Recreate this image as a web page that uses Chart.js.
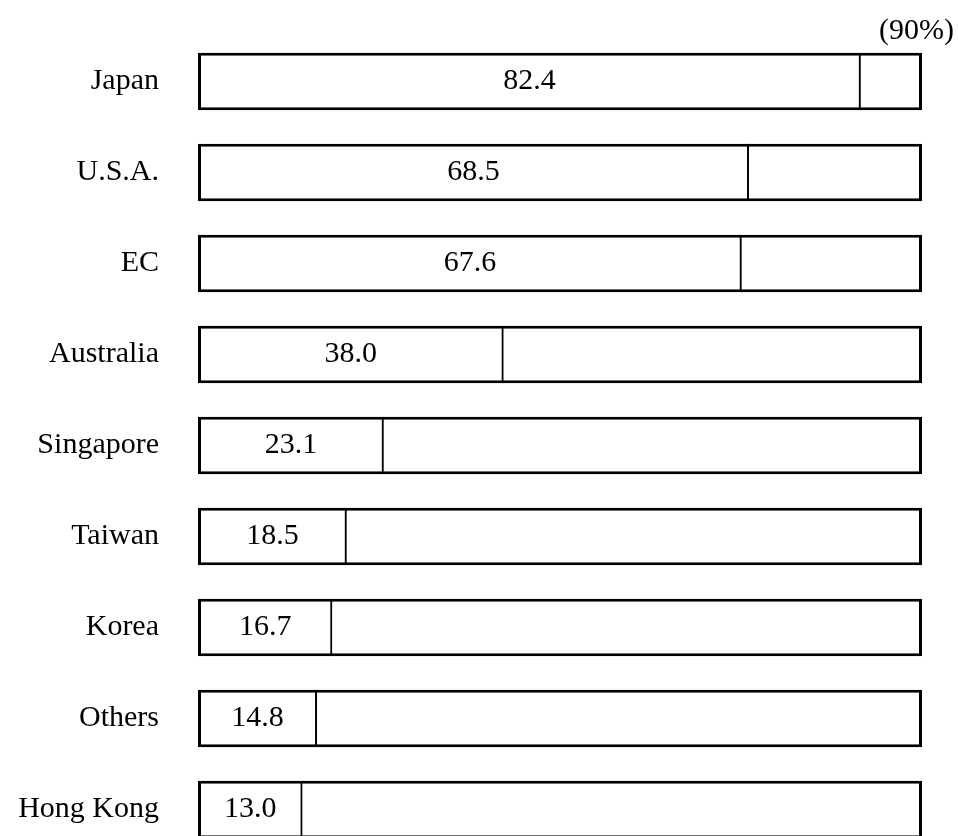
<!DOCTYPE html>
<html>
<head>
<meta charset="utf-8">
<script src="https://cdn.jsdelivr.net/npm/chart.js@4"></script>
<style>
  html, body { margin: 0; padding: 0; background: #fff; overflow: hidden; }
  #wrap { position: relative; width: 958px; height: 855px; }
</style>
</head>
<body>
<div id="wrap"><canvas id="c"></canvas></div>
<script>
const categories = ["Japan", "U.S.A.", "EC", "Australia", "Singapore", "Taiwan", "Korea", "Others", "Hong Kong"];
const values = [82.4, 68.5, 67.6, 38.0, 23.1, 18.5, 16.7, 14.8, 13.0];
const valueLabels = ["82.4", "68.5", "67.6", "38.0", "23.1", "18.5", "16.7", "14.8", "13.0"];
const scaleMax = 90;
const scaleMaxLabel = "(90%)";

const FONT = "'Liberation Serif', 'Times New Roman', serif";
const FONT_SIZE = 30;

const labelPlugin = {
  id: 'valueLabels',
  afterDatasetsDraw(chart) {
    const ctx = chart.ctx;
    const meta = chart.getDatasetMeta(1);
    ctx.save();
    ctx.fillStyle = '#000';
    ctx.font = FONT_SIZE + "px " + FONT;
    ctx.textAlign = 'center';
    ctx.textBaseline = 'middle';
    meta.data.forEach((bar, i) => {
      const p = bar.getProps(['x', 'y', 'base'], true);
      ctx.fillText(valueLabels[i], (p.x + p.base) / 2, p.y);
    });
    const xs = chart.scales.x;
    ctx.textAlign = 'right';
    ctx.fillText(scaleMaxLabel, xs.getPixelForValue(scaleMax) + 32, chart.chartArea.top - 5);
    ctx.restore();
  }
};

new Chart(document.getElementById('c'), {
  type: 'bar',
  data: {
    labels: categories,
    datasets: [
      {
        label: 'scale',
        data: categories.map(() => scaleMax),
        backgroundColor: '#ffffff',
        borderColor: '#000000',
        borderWidth: 3,
        borderSkipped: false,
        grouped: false,
        order: 2
      },
      {
        label: 'value',
        data: values,
        backgroundColor: 'rgba(0,0,0,0)',
        borderColor: '#000000',
        borderWidth: { left: 0, top: 0, bottom: 0, right: 2 },
        borderSkipped: false,
        grouped: false,
        order: 1
      }
    ]
  },
  options: {
    indexAxis: 'y',
    responsive: true,
    maintainAspectRatio: false,
    animation: false,
    categoryPercentage: 1,
    barPercentage: 0.63,
    layout: { padding: { top: 36, right: 36, bottom: 0, left: 0 } },
    plugins: { legend: { display: false }, tooltip: { enabled: false } },
    scales: {
      x: { display: false, min: 0, max: scaleMax },
      y: {
        grid: { display: false, drawTicks: false },
        border: { display: false },
        ticks: { color: '#000', font: { family: FONT, size: FONT_SIZE }, padding: 39 },
        afterFit(scale) {
          scale.width = 198;
          scale.paddingTop = 0;
          scale.paddingBottom = 0;
        }
      }
    }
  },
  plugins: [labelPlugin]
});
</script>
</body>
</html>
